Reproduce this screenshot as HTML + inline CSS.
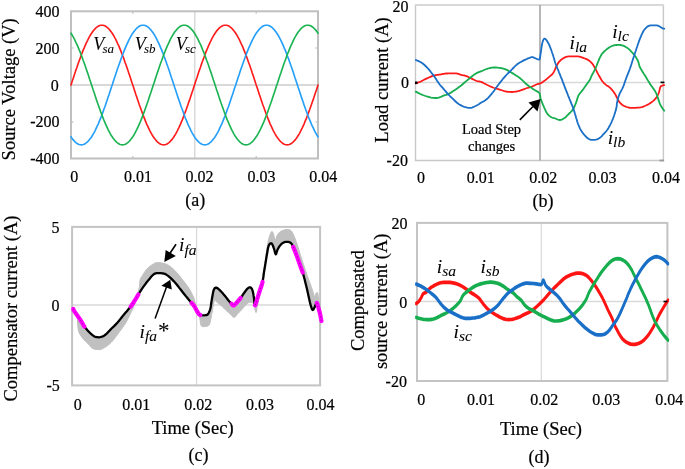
<!DOCTYPE html>
<html><head><meta charset="utf-8"><style>html,body{margin:0;padding:0;background:#fff;overflow:hidden;}svg{display:block;filter:blur(0.45px);}text{font-family:"Liberation Serif",serif;stroke:#000;stroke-width:0.2px;}text[font-style=italic]{stroke-width:0.05px;}</style></head>
<body><svg width="685" height="469" viewBox="0 0 685 469" fill="#000">
<rect width="685" height="469" fill="#fff"/>
<line x1="71" y1="85" x2="318" y2="85" stroke="#d9d9d9" stroke-width="2"/>
<line x1="194.75" y1="11.3" x2="194.75" y2="158.5" stroke="#d9d9d9" stroke-width="1.5"/>
<rect x="71" y="11.3" width="247" height="147.2" fill="none" stroke="#bfbfbf" stroke-width="2"/>
<line x1="132.8" y1="11.3" x2="132.8" y2="13.8" stroke="#bfbfbf" stroke-width="1.2"/>
<line x1="132.8" y1="158.5" x2="132.8" y2="156.0" stroke="#bfbfbf" stroke-width="1.2"/>
<line x1="256.2" y1="11.3" x2="256.2" y2="13.8" stroke="#bfbfbf" stroke-width="1.2"/>
<line x1="256.2" y1="158.5" x2="256.2" y2="156.0" stroke="#bfbfbf" stroke-width="1.2"/>
<line x1="71" y1="48" x2="73.5" y2="48" stroke="#bfbfbf" stroke-width="1.2"/>
<line x1="318" y1="48" x2="315.5" y2="48" stroke="#bfbfbf" stroke-width="1.2"/>
<line x1="71" y1="122" x2="73.5" y2="122" stroke="#bfbfbf" stroke-width="1.2"/>
<line x1="318" y1="122" x2="315.5" y2="122" stroke="#bfbfbf" stroke-width="1.2"/>
<path d="M71.0,85.0 L71.8,82.5 L72.6,80.0 L73.5,77.5 L74.3,75.0 L75.1,72.6 L75.9,70.1 L76.8,67.7 L77.6,65.3 L78.4,63.0 L79.2,60.7 L80.1,58.4 L80.9,56.2 L81.7,54.0 L82.5,51.9 L83.3,49.9 L84.2,47.9 L85.0,45.9 L85.8,44.1 L86.6,42.3 L87.5,40.6 L88.3,38.9 L89.1,37.4 L89.9,35.9 L90.8,34.5 L91.6,33.2 L92.4,32.0 L93.2,30.9 L94.1,29.9 L94.9,29.0 L95.7,28.1 L96.5,27.4 L97.3,26.8 L98.2,26.3 L99.0,25.8 L99.8,25.5 L100.6,25.3 L101.5,25.2 L102.3,25.2 L103.1,25.3 L103.9,25.5 L104.8,25.8 L105.6,26.3 L106.4,26.8 L107.2,27.4 L108.0,28.1 L108.9,29.0 L109.7,29.9 L110.5,30.9 L111.3,32.0 L112.2,33.2 L113.0,34.5 L113.8,35.9 L114.6,37.4 L115.5,38.9 L116.3,40.6 L117.1,42.3 L117.9,44.1 L118.8,45.9 L119.6,47.9 L120.4,49.9 L121.2,51.9 L122.0,54.0 L122.9,56.2 L123.7,58.4 L124.5,60.7 L125.3,63.0 L126.2,65.3 L127.0,67.7 L127.8,70.1 L128.6,72.6 L129.5,75.0 L130.3,77.5 L131.1,80.0 L131.9,82.5 L132.8,85.0 L133.6,87.5 L134.4,90.0 L135.2,92.5 L136.0,95.0 L136.9,97.4 L137.7,99.9 L138.5,102.3 L139.3,104.7 L140.2,107.0 L141.0,109.3 L141.8,111.6 L142.6,113.8 L143.5,116.0 L144.3,118.1 L145.1,120.1 L145.9,122.1 L146.7,124.1 L147.6,125.9 L148.4,127.7 L149.2,129.4 L150.0,131.1 L150.9,132.6 L151.7,134.1 L152.5,135.5 L153.3,136.8 L154.2,138.0 L155.0,139.1 L155.8,140.1 L156.6,141.0 L157.4,141.9 L158.3,142.6 L159.1,143.2 L159.9,143.7 L160.7,144.2 L161.6,144.5 L162.4,144.7 L163.2,144.8 L164.0,144.8 L164.9,144.7 L165.7,144.5 L166.5,144.2 L167.3,143.7 L168.2,143.2 L169.0,142.6 L169.8,141.9 L170.6,141.0 L171.4,140.1 L172.3,139.1 L173.1,138.0 L173.9,136.8 L174.7,135.5 L175.6,134.1 L176.4,132.6 L177.2,131.1 L178.0,129.4 L178.9,127.7 L179.7,125.9 L180.5,124.1 L181.3,122.1 L182.2,120.1 L183.0,118.1 L183.8,116.0 L184.6,113.8 L185.4,111.6 L186.3,109.3 L187.1,107.0 L187.9,104.7 L188.7,102.3 L189.6,99.9 L190.4,97.4 L191.2,95.0 L192.0,92.5 L192.9,90.0 L193.7,87.5 L194.5,85.0 L195.3,82.5 L196.1,80.0 L197.0,77.5 L197.8,75.0 L198.6,72.6 L199.4,70.1 L200.3,67.7 L201.1,65.3 L201.9,63.0 L202.7,60.7 L203.6,58.4 L204.4,56.2 L205.2,54.0 L206.0,51.9 L206.8,49.9 L207.7,47.9 L208.5,45.9 L209.3,44.1 L210.1,42.3 L211.0,40.6 L211.8,38.9 L212.6,37.4 L213.4,35.9 L214.3,34.5 L215.1,33.2 L215.9,32.0 L216.7,30.9 L217.6,29.9 L218.4,29.0 L219.2,28.1 L220.0,27.4 L220.8,26.8 L221.7,26.3 L222.5,25.8 L223.3,25.5 L224.1,25.3 L225.0,25.2 L225.8,25.2 L226.6,25.3 L227.4,25.5 L228.3,25.8 L229.1,26.3 L229.9,26.8 L230.7,27.4 L231.5,28.1 L232.4,29.0 L233.2,29.9 L234.0,30.9 L234.8,32.0 L235.7,33.2 L236.5,34.5 L237.3,35.9 L238.1,37.4 L239.0,38.9 L239.8,40.6 L240.6,42.3 L241.4,44.1 L242.3,45.9 L243.1,47.9 L243.9,49.9 L244.7,51.9 L245.5,54.0 L246.4,56.2 L247.2,58.4 L248.0,60.7 L248.8,63.0 L249.7,65.3 L250.5,67.7 L251.3,70.1 L252.1,72.6 L253.0,75.0 L253.8,77.5 L254.6,80.0 L255.4,82.5 L256.2,85.0 L257.1,87.5 L257.9,90.0 L258.7,92.5 L259.5,95.0 L260.4,97.4 L261.2,99.9 L262.0,102.3 L262.8,104.7 L263.7,107.0 L264.5,109.3 L265.3,111.6 L266.1,113.8 L267.0,116.0 L267.8,118.1 L268.6,120.1 L269.4,122.1 L270.2,124.1 L271.1,125.9 L271.9,127.7 L272.7,129.4 L273.5,131.1 L274.4,132.6 L275.2,134.1 L276.0,135.5 L276.8,136.8 L277.7,138.0 L278.5,139.1 L279.3,140.1 L280.1,141.0 L281.0,141.9 L281.8,142.6 L282.6,143.2 L283.4,143.7 L284.2,144.2 L285.1,144.5 L285.9,144.7 L286.7,144.8 L287.5,144.8 L288.4,144.7 L289.2,144.5 L290.0,144.2 L290.8,143.7 L291.7,143.2 L292.5,142.6 L293.3,141.9 L294.1,141.0 L294.9,140.1 L295.8,139.1 L296.6,138.0 L297.4,136.8 L298.2,135.5 L299.1,134.1 L299.9,132.6 L300.7,131.1 L301.5,129.4 L302.4,127.7 L303.2,125.9 L304.0,124.1 L304.8,122.1 L305.6,120.1 L306.5,118.1 L307.3,116.0 L308.1,113.8 L308.9,111.6 L309.8,109.3 L310.6,107.0 L311.4,104.7 L312.2,102.3 L313.1,99.9 L313.9,97.4 L314.7,95.0 L315.5,92.5 L316.4,90.0 L317.2,87.5 L318.0,85.0" fill="none" stroke="#ff1c1c" stroke-width="1.65" stroke-linejoin="round" stroke-linecap="round" />
<path d="M71.0,136.8 L71.8,138.0 L72.6,139.1 L73.5,140.1 L74.3,141.0 L75.1,141.9 L75.9,142.6 L76.8,143.2 L77.6,143.7 L78.4,144.2 L79.2,144.5 L80.1,144.7 L80.9,144.8 L81.7,144.8 L82.5,144.7 L83.3,144.5 L84.2,144.2 L85.0,143.7 L85.8,143.2 L86.6,142.6 L87.5,141.9 L88.3,141.0 L89.1,140.1 L89.9,139.1 L90.8,138.0 L91.6,136.8 L92.4,135.5 L93.2,134.1 L94.1,132.6 L94.9,131.1 L95.7,129.4 L96.5,127.7 L97.3,125.9 L98.2,124.1 L99.0,122.1 L99.8,120.1 L100.6,118.1 L101.5,116.0 L102.3,113.8 L103.1,111.6 L103.9,109.3 L104.8,107.0 L105.6,104.7 L106.4,102.3 L107.2,99.9 L108.0,97.4 L108.9,95.0 L109.7,92.5 L110.5,90.0 L111.3,87.5 L112.2,85.0 L113.0,82.5 L113.8,80.0 L114.6,77.5 L115.5,75.0 L116.3,72.6 L117.1,70.1 L117.9,67.7 L118.8,65.3 L119.6,63.0 L120.4,60.7 L121.2,58.4 L122.0,56.2 L122.9,54.0 L123.7,51.9 L124.5,49.9 L125.3,47.9 L126.2,45.9 L127.0,44.1 L127.8,42.3 L128.6,40.6 L129.5,38.9 L130.3,37.4 L131.1,35.9 L131.9,34.5 L132.8,33.2 L133.6,32.0 L134.4,30.9 L135.2,29.9 L136.0,29.0 L136.9,28.1 L137.7,27.4 L138.5,26.8 L139.3,26.3 L140.2,25.8 L141.0,25.5 L141.8,25.3 L142.6,25.2 L143.5,25.2 L144.3,25.3 L145.1,25.5 L145.9,25.8 L146.7,26.3 L147.6,26.8 L148.4,27.4 L149.2,28.1 L150.0,29.0 L150.9,29.9 L151.7,30.9 L152.5,32.0 L153.3,33.2 L154.2,34.5 L155.0,35.9 L155.8,37.4 L156.6,38.9 L157.4,40.6 L158.3,42.3 L159.1,44.1 L159.9,45.9 L160.7,47.9 L161.6,49.9 L162.4,51.9 L163.2,54.0 L164.0,56.2 L164.9,58.4 L165.7,60.7 L166.5,63.0 L167.3,65.3 L168.2,67.7 L169.0,70.1 L169.8,72.6 L170.6,75.0 L171.4,77.5 L172.3,80.0 L173.1,82.5 L173.9,85.0 L174.7,87.5 L175.6,90.0 L176.4,92.5 L177.2,95.0 L178.0,97.4 L178.9,99.9 L179.7,102.3 L180.5,104.7 L181.3,107.0 L182.2,109.3 L183.0,111.6 L183.8,113.8 L184.6,116.0 L185.4,118.1 L186.3,120.1 L187.1,122.1 L187.9,124.1 L188.7,125.9 L189.6,127.7 L190.4,129.4 L191.2,131.1 L192.0,132.6 L192.9,134.1 L193.7,135.5 L194.5,136.8 L195.3,138.0 L196.1,139.1 L197.0,140.1 L197.8,141.0 L198.6,141.9 L199.4,142.6 L200.3,143.2 L201.1,143.7 L201.9,144.2 L202.7,144.5 L203.6,144.7 L204.4,144.8 L205.2,144.8 L206.0,144.7 L206.8,144.5 L207.7,144.2 L208.5,143.7 L209.3,143.2 L210.1,142.6 L211.0,141.9 L211.8,141.0 L212.6,140.1 L213.4,139.1 L214.3,138.0 L215.1,136.8 L215.9,135.5 L216.7,134.1 L217.6,132.6 L218.4,131.1 L219.2,129.4 L220.0,127.7 L220.8,125.9 L221.7,124.1 L222.5,122.1 L223.3,120.1 L224.1,118.1 L225.0,116.0 L225.8,113.8 L226.6,111.6 L227.4,109.3 L228.3,107.0 L229.1,104.7 L229.9,102.3 L230.7,99.9 L231.5,97.4 L232.4,95.0 L233.2,92.5 L234.0,90.0 L234.8,87.5 L235.7,85.0 L236.5,82.5 L237.3,80.0 L238.1,77.5 L239.0,75.0 L239.8,72.6 L240.6,70.1 L241.4,67.7 L242.3,65.3 L243.1,63.0 L243.9,60.7 L244.7,58.4 L245.5,56.2 L246.4,54.0 L247.2,51.9 L248.0,49.9 L248.8,47.9 L249.7,45.9 L250.5,44.1 L251.3,42.3 L252.1,40.6 L253.0,38.9 L253.8,37.4 L254.6,35.9 L255.4,34.5 L256.2,33.2 L257.1,32.0 L257.9,30.9 L258.7,29.9 L259.5,29.0 L260.4,28.1 L261.2,27.4 L262.0,26.8 L262.8,26.3 L263.7,25.8 L264.5,25.5 L265.3,25.3 L266.1,25.2 L267.0,25.2 L267.8,25.3 L268.6,25.5 L269.4,25.8 L270.2,26.3 L271.1,26.8 L271.9,27.4 L272.7,28.1 L273.5,29.0 L274.4,29.9 L275.2,30.9 L276.0,32.0 L276.8,33.2 L277.7,34.5 L278.5,35.9 L279.3,37.4 L280.1,38.9 L281.0,40.6 L281.8,42.3 L282.6,44.1 L283.4,45.9 L284.2,47.9 L285.1,49.9 L285.9,51.9 L286.7,54.0 L287.5,56.2 L288.4,58.4 L289.2,60.7 L290.0,63.0 L290.8,65.3 L291.7,67.7 L292.5,70.1 L293.3,72.6 L294.1,75.0 L294.9,77.5 L295.8,80.0 L296.6,82.5 L297.4,85.0 L298.2,87.5 L299.1,90.0 L299.9,92.5 L300.7,95.0 L301.5,97.4 L302.4,99.9 L303.2,102.3 L304.0,104.7 L304.8,107.0 L305.6,109.3 L306.5,111.6 L307.3,113.8 L308.1,116.0 L308.9,118.1 L309.8,120.1 L310.6,122.1 L311.4,124.1 L312.2,125.9 L313.1,127.7 L313.9,129.4 L314.7,131.1 L315.5,132.6 L316.4,134.1 L317.2,135.5 L318.0,136.8" fill="none" stroke="#259ffa" stroke-width="1.65" stroke-linejoin="round" stroke-linecap="round" />
<path d="M71.0,33.2 L71.8,34.5 L72.6,35.9 L73.5,37.4 L74.3,38.9 L75.1,40.6 L75.9,42.3 L76.8,44.1 L77.6,45.9 L78.4,47.9 L79.2,49.9 L80.1,51.9 L80.9,54.0 L81.7,56.2 L82.5,58.4 L83.3,60.7 L84.2,63.0 L85.0,65.3 L85.8,67.7 L86.6,70.1 L87.5,72.6 L88.3,75.0 L89.1,77.5 L89.9,80.0 L90.8,82.5 L91.6,85.0 L92.4,87.5 L93.2,90.0 L94.1,92.5 L94.9,95.0 L95.7,97.4 L96.5,99.9 L97.3,102.3 L98.2,104.7 L99.0,107.0 L99.8,109.3 L100.6,111.6 L101.5,113.8 L102.3,116.0 L103.1,118.1 L103.9,120.1 L104.8,122.1 L105.6,124.1 L106.4,125.9 L107.2,127.7 L108.0,129.4 L108.9,131.1 L109.7,132.6 L110.5,134.1 L111.3,135.5 L112.2,136.8 L113.0,138.0 L113.8,139.1 L114.6,140.1 L115.5,141.0 L116.3,141.9 L117.1,142.6 L117.9,143.2 L118.8,143.7 L119.6,144.2 L120.4,144.5 L121.2,144.7 L122.0,144.8 L122.9,144.8 L123.7,144.7 L124.5,144.5 L125.3,144.2 L126.2,143.7 L127.0,143.2 L127.8,142.6 L128.6,141.9 L129.5,141.0 L130.3,140.1 L131.1,139.1 L131.9,138.0 L132.8,136.8 L133.6,135.5 L134.4,134.1 L135.2,132.6 L136.0,131.1 L136.9,129.4 L137.7,127.7 L138.5,125.9 L139.3,124.1 L140.2,122.1 L141.0,120.1 L141.8,118.1 L142.6,116.0 L143.5,113.8 L144.3,111.6 L145.1,109.3 L145.9,107.0 L146.7,104.7 L147.6,102.3 L148.4,99.9 L149.2,97.4 L150.0,95.0 L150.9,92.5 L151.7,90.0 L152.5,87.5 L153.3,85.0 L154.2,82.5 L155.0,80.0 L155.8,77.5 L156.6,75.0 L157.4,72.6 L158.3,70.1 L159.1,67.7 L159.9,65.3 L160.7,63.0 L161.6,60.7 L162.4,58.4 L163.2,56.2 L164.0,54.0 L164.9,51.9 L165.7,49.9 L166.5,47.9 L167.3,45.9 L168.2,44.1 L169.0,42.3 L169.8,40.6 L170.6,38.9 L171.4,37.4 L172.3,35.9 L173.1,34.5 L173.9,33.2 L174.7,32.0 L175.6,30.9 L176.4,29.9 L177.2,29.0 L178.0,28.1 L178.9,27.4 L179.7,26.8 L180.5,26.3 L181.3,25.8 L182.2,25.5 L183.0,25.3 L183.8,25.2 L184.6,25.2 L185.4,25.3 L186.3,25.5 L187.1,25.8 L187.9,26.3 L188.7,26.8 L189.6,27.4 L190.4,28.1 L191.2,29.0 L192.0,29.9 L192.9,30.9 L193.7,32.0 L194.5,33.2 L195.3,34.5 L196.1,35.9 L197.0,37.4 L197.8,38.9 L198.6,40.6 L199.4,42.3 L200.3,44.1 L201.1,45.9 L201.9,47.9 L202.7,49.9 L203.6,51.9 L204.4,54.0 L205.2,56.2 L206.0,58.4 L206.8,60.7 L207.7,63.0 L208.5,65.3 L209.3,67.7 L210.1,70.1 L211.0,72.6 L211.8,75.0 L212.6,77.5 L213.4,80.0 L214.3,82.5 L215.1,85.0 L215.9,87.5 L216.7,90.0 L217.6,92.5 L218.4,95.0 L219.2,97.4 L220.0,99.9 L220.8,102.3 L221.7,104.7 L222.5,107.0 L223.3,109.3 L224.1,111.6 L225.0,113.8 L225.8,116.0 L226.6,118.1 L227.4,120.1 L228.3,122.1 L229.1,124.1 L229.9,125.9 L230.7,127.7 L231.5,129.4 L232.4,131.1 L233.2,132.6 L234.0,134.1 L234.8,135.5 L235.7,136.8 L236.5,138.0 L237.3,139.1 L238.1,140.1 L239.0,141.0 L239.8,141.9 L240.6,142.6 L241.4,143.2 L242.3,143.7 L243.1,144.2 L243.9,144.5 L244.7,144.7 L245.5,144.8 L246.4,144.8 L247.2,144.7 L248.0,144.5 L248.8,144.2 L249.7,143.7 L250.5,143.2 L251.3,142.6 L252.1,141.9 L253.0,141.0 L253.8,140.1 L254.6,139.1 L255.4,138.0 L256.2,136.8 L257.1,135.5 L257.9,134.1 L258.7,132.6 L259.5,131.1 L260.4,129.4 L261.2,127.7 L262.0,125.9 L262.8,124.1 L263.7,122.1 L264.5,120.1 L265.3,118.1 L266.1,116.0 L267.0,113.8 L267.8,111.6 L268.6,109.3 L269.4,107.0 L270.2,104.7 L271.1,102.3 L271.9,99.9 L272.7,97.4 L273.5,95.0 L274.4,92.5 L275.2,90.0 L276.0,87.5 L276.8,85.0 L277.7,82.5 L278.5,80.0 L279.3,77.5 L280.1,75.0 L281.0,72.6 L281.8,70.1 L282.6,67.7 L283.4,65.3 L284.2,63.0 L285.1,60.7 L285.9,58.4 L286.7,56.2 L287.5,54.0 L288.4,51.9 L289.2,49.9 L290.0,47.9 L290.8,45.9 L291.7,44.1 L292.5,42.3 L293.3,40.6 L294.1,38.9 L294.9,37.4 L295.8,35.9 L296.6,34.5 L297.4,33.2 L298.2,32.0 L299.1,30.9 L299.9,29.9 L300.7,29.0 L301.5,28.1 L302.4,27.4 L303.2,26.8 L304.0,26.3 L304.8,25.8 L305.6,25.5 L306.5,25.3 L307.3,25.2 L308.1,25.2 L308.9,25.3 L309.8,25.5 L310.6,25.8 L311.4,26.3 L312.2,26.8 L313.1,27.4 L313.9,28.1 L314.7,29.0 L315.5,29.9 L316.4,30.9 L317.2,32.0 L318.0,33.2" fill="none" stroke="#1cb452" stroke-width="1.65" stroke-linejoin="round" stroke-linecap="round" />
<text x="59.6" y="17.4" font-size="16" text-anchor="end">400</text>
<text x="59.6" y="53.8" font-size="16" text-anchor="end">200</text>
<text x="58.8" y="90.55" font-size="16" text-anchor="end">0</text>
<text x="59.6" y="127.1" font-size="16" text-anchor="end">-200</text>
<text x="59.6" y="163.5" font-size="16" text-anchor="end">-400</text>
<text x="70.2" y="182" font-size="16">0</text>
<text x="124" y="182" font-size="16">0.01</text>
<text x="185.5" y="182" font-size="16">0.02</text>
<text x="247.4" y="182" font-size="16">0.03</text>
<text x="309.2" y="182" font-size="16">0.04</text>
<text x="195.3" y="206" font-size="18" text-anchor="middle">(a)</text>
<text transform="translate(15,89.3) rotate(-90)" font-size="18.5" text-anchor="middle">Source Voltage (V)</text>
<text x="93.2" y="49.7" font-size="18" font-style="italic">V<tspan font-size="13" dy="2.8" dx="-1.8">sa</tspan></text>
<text x="134.7" y="49.7" font-size="18" font-style="italic">V<tspan font-size="13" dy="2.8" dx="-1.8">sb</tspan></text>
<text x="175.7" y="49.7" font-size="18" font-style="italic">V<tspan font-size="13" dy="2.8" dx="-1.8">sc</tspan></text>
<line x1="415.5" y1="82.4" x2="663.4" y2="82.4" stroke="#d9d9d9" stroke-width="1.5"/>
<path d="M415.5,4.9 V160.5 H663.4 V4.9" fill="none" stroke="#c8c8c8" stroke-width="1.4"/>
<line x1="414.8" y1="4.9" x2="664.1" y2="4.9" stroke="#d8d8d8" stroke-width="2"/>
<rect x="659.5" y="159.6" width="4.6" height="1.8" fill="#9a9a9a"/>
<line x1="540" y1="4.9" x2="540" y2="160.5" stroke="#a0a0a0" stroke-width="1.5"/>
<path d="M415.8,83.5 L416.8,83.1 L418.2,82.5 L419.8,81.9 L421.3,81.2 L422.7,80.5 L424.0,79.8 L425.4,79.1 L426.9,78.4 L428.5,77.7 L430.3,76.9 L432.0,76.2 L433.8,75.6 L435.6,75.2 L437.4,74.9 L439.2,74.7 L440.7,74.5 L441.9,74.2 L442.8,74.0 L443.7,73.8 L444.9,73.6 L446.5,73.5 L448.3,73.4 L450.1,73.3 L451.8,73.3 L453.3,73.3 L454.8,73.3 L456.1,73.4 L457.4,73.6 L458.5,73.9 L459.5,74.3 L460.5,74.7 L461.5,75.0 L462.5,75.2 L463.5,75.3 L464.6,75.5 L465.7,75.8 L467.0,76.3 L468.4,77.0 L469.8,77.7 L471.2,78.4 L472.6,79.1 L474.1,79.8 L475.5,80.5 L476.8,81.0 L477.9,81.3 L478.9,81.4 L479.9,81.5 L481.0,81.8 L482.4,82.4 L483.8,83.2 L485.4,84.0 L486.9,84.8 L488.4,85.5 L489.9,86.2 L491.4,86.9 L492.9,87.5 L494.4,88.0 L495.8,88.4 L497.3,88.8 L498.9,89.3 L500.6,89.9 L502.5,90.5 L504.4,91.1 L506.3,91.5 L508.2,91.8 L510.1,91.9 L512.0,92.0 L513.8,91.9 L515.4,91.7 L516.9,91.5 L518.3,91.1 L519.8,90.7 L521.3,90.2 L522.8,89.6 L524.2,89.1 L525.7,88.5 L527.2,88.0 L528.7,87.6 L530.2,87.1 L531.7,86.6 L533.3,86.0 L534.9,85.2 L536.4,84.5 L537.7,84.0 L538.6,83.8 L539.2,83.7 L539.8,83.7 L540.5,83.4 L541.5,82.8 L542.7,82.1 L543.8,81.3 L545.0,80.4 L546.1,79.5 L547.2,78.6 L548.3,77.6 L549.4,76.7 L550.4,75.8 L551.4,75.0 L552.3,74.1 L553.2,73.0 L554.0,71.6 L554.7,70.1 L555.4,68.5 L556.1,67.0 L556.8,65.6 L557.5,64.2 L558.3,62.9 L559.1,61.8 L560.0,60.8 L560.9,59.9 L561.9,59.2 L562.9,58.5 L563.9,57.9 L565.0,57.4 L566.1,56.9 L567.3,56.6 L568.7,56.4 L570.2,56.3 L571.8,56.3 L573.3,56.3 L574.8,56.3 L576.4,56.3 L577.9,56.4 L579.3,56.6 L580.5,56.9 L581.6,57.3 L582.7,57.7 L583.8,58.1 L584.9,58.5 L586.0,58.9 L587.1,59.4 L588.2,60.0 L589.2,60.7 L590.1,61.4 L591.1,62.3 L592.0,63.3 L592.9,64.6 L593.9,66.1 L594.8,67.7 L595.7,69.3 L596.5,70.8 L597.2,72.3 L597.9,73.7 L598.7,75.2 L599.6,76.7 L600.5,78.3 L601.5,79.9 L602.4,81.2 L603.3,82.3 L604.2,83.3 L605.1,84.1 L606.0,84.9 L606.8,85.5 L607.5,85.9 L608.2,86.3 L609.0,86.9 L609.9,87.7 L610.9,88.7 L611.8,89.7 L612.7,90.7 L613.5,91.7 L614.2,92.8 L615.0,93.9 L615.7,95.1 L616.4,96.5 L617.2,98.1 L617.9,99.7 L618.7,101.1 L619.5,102.2 L620.4,103.2 L621.3,104.1 L622.4,104.9 L623.7,105.7 L625.2,106.4 L626.7,107.0 L628.4,107.5 L630.2,107.8 L632.1,107.9 L634.0,107.8 L635.8,107.8 L637.4,107.7 L638.9,107.6 L640.3,107.4 L641.8,107.1 L643.3,106.6 L644.8,106.0 L646.4,105.3 L647.8,104.6 L649.2,103.8 L650.5,102.9 L651.8,102.0 L653.0,101.1 L654.1,100.2 L655.0,99.2 L655.9,98.2 L656.7,97.1 L657.4,95.9 L658.0,94.7 L658.5,93.5 L659.0,92.2 L659.4,90.8 L659.7,89.3 L660.0,88.0 L660.4,86.9 L660.9,86.2 L661.5,85.8 L662.2,85.6 L662.7,85.4 L663.2,85.2 L663.6,85.2 L663.9,85.1 L664.2,85.1" fill="none" stroke="#ff1a1a" stroke-width="1.8" stroke-linejoin="round" stroke-linecap="round" />
<path d="M415.8,91.6 L416.8,92.1 L418.2,92.9 L419.8,93.7 L421.3,94.4 L422.7,95.0 L424.1,95.5 L425.5,96.0 L426.9,96.4 L428.3,96.8 L429.6,97.2 L431.0,97.6 L432.4,97.8 L433.8,97.9 L435.2,98.0 L436.6,98.0 L438.0,97.8 L439.4,97.4 L440.8,96.9 L442.1,96.3 L443.5,95.7 L444.9,95.2 L446.2,94.8 L447.6,94.3 L449.0,93.7 L450.4,92.9 L451.8,92.1 L453.2,91.1 L454.6,90.2 L456.0,89.3 L457.4,88.3 L458.7,87.3 L460.1,86.3 L461.5,85.2 L462.9,84.0 L464.3,82.8 L465.7,81.6 L467.1,80.4 L468.5,79.2 L469.9,78.1 L471.2,77.0 L472.4,76.0 L473.6,75.1 L474.8,74.3 L476.0,73.5 L477.1,72.9 L478.2,72.4 L479.5,71.9 L481.0,71.3 L483.0,70.5 L485.3,69.5 L487.7,68.6 L489.9,68.0 L491.9,67.7 L493.7,67.5 L495.6,67.5 L497.4,67.6 L499.3,67.8 L501.2,68.1 L503.0,68.5 L504.9,69.1 L506.8,69.9 L508.6,70.9 L510.4,72.0 L512.3,73.1 L514.2,74.2 L516.0,75.4 L517.9,76.6 L519.8,78.0 L521.7,79.6 L523.5,81.4 L525.3,83.2 L527.2,84.8 L529.1,86.3 L531.1,87.6 L533.0,88.9 L534.7,90.0 L536.2,90.9 L537.5,91.6 L538.5,92.3 L539.4,93.2 L539.9,94.3 L540.1,95.5 L540.3,96.7 L540.5,97.9 L540.8,99.0 L541.2,100.1 L541.6,101.2 L542.0,102.4 L542.5,103.6 L543.0,104.9 L543.6,106.2 L544.2,107.6 L544.9,109.1 L545.6,110.7 L546.4,112.3 L547.2,113.6 L548.1,114.7 L549.0,115.6 L549.9,116.3 L550.9,117.0 L552.0,117.5 L553.1,117.9 L554.3,118.2 L555.4,118.5 L556.5,119.0 L557.6,119.5 L558.8,119.9 L559.9,120.0 L561.0,119.8 L562.2,119.4 L563.3,118.8 L564.4,118.1 L565.4,117.4 L566.3,116.5 L567.1,115.6 L568.1,114.6 L569.2,113.5 L570.4,112.4 L571.6,111.2 L572.6,109.9 L573.5,108.5 L574.2,107.0 L574.9,105.5 L575.6,103.9 L576.2,102.2 L576.8,100.4 L577.3,98.6 L577.8,97.2 L578.2,96.2 L578.5,95.5 L578.8,94.9 L579.3,94.2 L579.9,93.3 L580.7,92.4 L581.5,91.5 L582.3,90.4 L583.2,89.2 L584.1,87.9 L585.1,86.5 L586.0,85.2 L587.0,83.9 L588.0,82.5 L588.9,81.2 L589.7,80.0 L590.2,79.2 L590.4,78.6 L590.7,77.9 L591.2,76.7 L592.1,74.8 L593.4,72.5 L594.6,70.1 L595.7,67.8 L596.6,65.8 L597.3,63.9 L598.0,62.0 L598.7,60.3 L599.4,58.7 L600.1,57.1 L600.9,55.7 L601.7,54.3 L602.6,53.1 L603.7,52.0 L604.8,50.9 L606.0,49.9 L607.4,48.8 L608.8,47.7 L610.4,46.8 L611.9,46.0 L613.4,45.5 L614.9,45.2 L616.5,45.0 L617.9,44.9 L619.3,44.9 L620.6,45.0 L621.9,45.3 L623.1,45.6 L624.3,46.1 L625.4,46.7 L626.5,47.4 L627.6,48.1 L628.6,48.9 L629.5,49.7 L630.4,50.6 L631.3,51.6 L632.3,52.6 L633.2,53.7 L634.2,54.8 L635.1,56.0 L635.9,57.3 L636.7,58.6 L637.5,60.0 L638.1,61.3 L638.5,62.6 L638.9,63.9 L639.2,65.2 L639.6,66.5 L640.2,67.8 L640.9,69.0 L641.7,70.3 L642.5,71.7 L643.4,73.1 L644.3,74.6 L645.3,76.1 L646.3,77.7 L647.4,79.6 L648.6,81.6 L649.8,83.5 L650.7,85.0 L651.2,85.8 L651.5,86.0 L651.7,86.3 L652.2,86.9 L653.0,88.1 L654.1,89.6 L655.1,91.3 L656.0,92.9 L656.7,94.4 L657.2,95.9 L657.7,97.4 L658.2,98.9 L658.7,100.4 L659.2,101.9 L659.7,103.4 L660.4,104.9 L661.3,106.5 L662.4,108.2 L663.5,109.7 L664.2,110.8" fill="none" stroke="#17ae4f" stroke-width="1.8" stroke-linejoin="round" stroke-linecap="round" />
<path d="M415.8,60.0 L416.8,60.4 L418.2,60.9 L419.8,61.7 L421.3,62.5 L422.7,63.5 L424.2,64.8 L425.6,66.0 L426.9,67.3 L428.0,68.5 L429.0,69.7 L430.0,70.9 L431.0,72.2 L432.0,73.5 L433.1,74.9 L434.2,76.3 L435.2,77.7 L436.2,79.3 L437.2,80.9 L438.3,82.5 L439.3,84.0 L440.3,85.3 L441.4,86.5 L442.5,87.6 L443.5,88.8 L444.5,90.0 L445.5,91.2 L446.5,92.4 L447.6,93.7 L448.9,95.0 L450.3,96.5 L451.8,97.9 L453.2,99.2 L454.6,100.5 L455.9,101.8 L457.3,103.0 L458.7,104.0 L460.1,104.9 L461.5,105.6 L462.9,106.3 L464.3,106.8 L465.7,107.2 L467.1,107.6 L468.5,107.8 L469.8,107.9 L470.9,107.8 L472.0,107.6 L473.0,107.2 L474.0,106.8 L475.0,106.3 L476.1,105.8 L477.1,105.2 L478.0,104.7 L478.8,104.2 L479.4,103.8 L480.1,103.3 L481.0,102.7 L482.3,102.0 L483.8,101.2 L485.3,100.2 L486.9,99.0 L488.4,97.6 L489.9,95.9 L491.4,94.1 L492.9,92.2 L494.4,90.2 L495.9,88.1 L497.4,86.0 L498.9,84.0 L500.4,82.1 L501.9,80.2 L503.4,78.3 L504.9,76.6 L506.4,75.0 L507.8,73.5 L509.3,72.1 L510.8,70.6 L512.3,69.0 L513.8,67.5 L515.3,65.9 L516.8,64.6 L518.3,63.5 L519.8,62.5 L521.3,61.7 L522.8,60.9 L524.3,60.1 L525.9,59.4 L527.4,58.7 L528.7,58.2 L529.8,57.8 L530.7,57.4 L531.6,57.2 L532.5,57.2 L533.4,57.4 L534.4,57.9 L535.3,58.3 L536.2,58.7 L537.1,59.0 L538.0,59.4 L538.8,59.6 L539.5,59.3 L539.9,58.5 L540.1,57.3 L540.3,55.9 L540.5,54.3 L540.8,52.4 L541.1,50.3 L541.4,48.1 L541.7,46.1 L542.1,44.3 L542.4,42.7 L542.8,41.2 L543.2,40.1 L543.6,39.4 L543.9,38.9 L544.3,38.7 L544.7,38.7 L545.1,38.8 L545.5,39.1 L545.9,39.5 L546.4,40.1 L546.9,40.8 L547.5,41.8 L548.1,42.8 L548.7,43.9 L549.3,45.1 L549.8,46.3 L550.3,47.7 L550.9,49.1 L551.5,50.7 L552.0,52.3 L552.6,54.0 L553.2,55.8 L553.7,57.6 L554.3,59.5 L554.8,61.4 L555.4,63.3 L556.1,65.2 L556.9,67.0 L557.6,68.8 L558.4,70.7 L559.1,72.6 L559.9,74.4 L560.6,76.3 L561.4,78.2 L562.2,80.1 L562.9,82.1 L563.7,84.1 L564.4,86.0 L565.1,87.9 L565.8,89.7 L566.6,91.6 L567.3,93.4 L568.0,95.3 L568.8,97.1 L569.5,99.0 L570.3,100.9 L571.1,102.8 L571.8,104.7 L572.6,106.5 L573.3,108.4 L573.9,110.3 L574.5,112.1 L575.0,113.9 L575.6,115.8 L576.1,117.7 L576.7,119.6 L577.2,121.5 L577.8,123.3 L578.5,125.0 L579.2,126.7 L579.9,128.4 L580.8,130.0 L581.8,131.6 L583.0,133.2 L584.1,134.7 L585.3,136.0 L586.4,137.1 L587.4,138.1 L588.5,138.8 L589.7,139.4 L591.1,139.8 L592.7,139.9 L594.3,139.9 L595.7,139.7 L597.0,139.3 L598.2,138.8 L599.2,138.2 L600.2,137.5 L601.0,136.9 L601.6,136.3 L602.2,135.6 L603.0,134.7 L604.0,133.6 L605.2,132.3 L606.4,131.0 L607.5,129.5 L608.5,127.9 L609.4,126.3 L610.3,124.6 L611.2,122.8 L612.0,121.0 L612.8,119.1 L613.5,117.2 L614.2,115.3 L614.8,113.4 L615.4,111.4 L616.0,109.6 L616.4,107.8 L616.7,106.2 L616.8,104.9 L616.9,103.5 L617.2,101.9 L617.6,100.1 L618.1,98.3 L618.7,96.3 L619.4,94.4 L620.2,92.5 L621.2,90.7 L622.2,88.8 L623.1,86.9 L623.9,84.9 L624.6,82.8 L625.3,80.7 L626.1,78.5 L627.0,76.1 L628.0,73.6 L629.0,71.1 L629.9,68.7 L630.7,66.4 L631.4,64.2 L632.1,62.0 L632.8,59.8 L633.5,57.6 L634.3,55.3 L635.0,53.0 L635.8,50.8 L636.5,48.5 L637.3,46.3 L638.0,44.0 L638.8,41.9 L639.5,39.9 L640.3,37.9 L641.0,36.1 L641.8,34.4 L642.5,32.9 L643.2,31.5 L643.9,30.3 L644.8,29.2 L645.8,28.1 L646.8,27.1 L647.9,26.3 L649.3,25.7 L651.0,25.4 L653.1,25.3 L655.1,25.3 L656.7,25.4 L657.8,25.6 L658.5,25.9 L659.1,26.2 L659.7,26.6 L660.5,27.0 L661.3,27.6 L662.1,28.0 L662.7,28.4 L663.2,28.6 L663.6,28.7 L664.0,28.7 L664.2,28.7" fill="none" stroke="#1a6fc7" stroke-width="1.8" stroke-linejoin="round" stroke-linecap="round" />
<rect x="415" y="81.5" width="2.5" height="2.5" fill="#000"/>
<rect x="660.5" y="81.6" width="4" height="1.6" fill="#000"/>
<text x="408.6" y="12.4" font-size="16" text-anchor="end">20</text>
<text x="409" y="87.9" font-size="16" text-anchor="end">0</text>
<text x="407.9" y="166.4" font-size="16" text-anchor="end">-20</text>
<text x="416.9" y="183" font-size="16">0</text>
<text x="466.7" y="183" font-size="16">0.01</text>
<text x="529.2" y="183" font-size="16">0.02</text>
<text x="588.6" y="183" font-size="16">0.03</text>
<text x="652" y="183" font-size="16">0.04</text>
<text x="543" y="207" font-size="18" text-anchor="middle">(b)</text>
<text transform="translate(388,80) rotate(-90)" font-size="18.5" text-anchor="middle">Load current (A)</text>
<text x="569.5" y="49.2" font-size="19.5" font-style="italic">i<tspan font-size="15.5" dy="3.2" dx="0">la</tspan></text>
<text x="612.2" y="38" font-size="19.5" font-style="italic">i<tspan font-size="15.5" dy="3.2" dx="0">lc</tspan></text>
<text x="607.7" y="143.5" font-size="19.5" font-style="italic">i<tspan font-size="15.5" dy="3.2" dx="0">lb</tspan></text>
<text x="491.5" y="134" font-size="14.5" text-anchor="middle">Load Step</text>
<text x="491.7" y="151.1" font-size="14.7" text-anchor="middle">changes</text>
<line x1="519.8" y1="119.9" x2="533" y2="106.5" stroke="#000" stroke-width="1.6"/>
<polygon points="540.6,99 537.5,111.5 528.5,102.5" fill="#000"/>
<line x1="72.1" y1="304.95" x2="320.1" y2="304.95" stroke="#d9d9d9" stroke-width="1.5"/>
<line x1="196.6" y1="226.9" x2="196.6" y2="385.4" stroke="#d9d9d9" stroke-width="1.2"/>
<rect x="72.1" y="226.9" width="248.00000000000003" height="158.49999999999997" fill="none" stroke="#c4c4c4" stroke-width="2"/>
<path d="M77.8,316.2 L78.7,317.4 L79.6,318.6 L80.5,320.0 L81.4,321.6 L82.4,323.3 L83.4,325.0 L84.4,326.6 L85.5,328.0 L86.6,329.3 L87.7,330.6 L88.9,331.8 L90.2,333.1 L91.6,334.3 L92.9,335.4 L94.1,336.3 L95.1,336.8 L95.9,337.0 L96.7,337.1 L97.5,337.2 L98.3,337.3 L99.1,337.3 L99.9,337.2 L100.8,337.0 L101.8,336.7 L102.9,336.3 L104.0,335.7 L105.3,334.8 L106.7,333.6 L108.2,332.0 L109.8,330.4 L111.3,328.8 L112.8,327.3 L114.3,325.9 L115.8,324.4 L117.3,322.8 L118.8,321.0 L120.3,319.1 L121.8,317.2 L123.2,315.4 L124.6,313.8 L125.9,312.3 L127.1,310.9 L128.2,309.6 L129.1,308.5 L129.9,307.5 L130.7,306.6 L131.5,305.5 L132.3,304.3 L133.2,303.1 L134.0,301.7 L135.0,300.2 L136.1,298.4 L137.2,296.5 L138.4,294.5 L139.6,292.5 L140.8,290.6 L142.1,288.7 L143.3,286.9 L144.6,285.1 L145.9,283.3 L147.3,281.6 L148.6,279.9 L149.9,278.4 L151.0,277.0 L152.1,275.8 L153.2,274.7 L154.3,273.9 L155.6,273.4 L156.9,273.2 L158.3,273.1 L159.6,273.1 L160.9,273.1 L162.2,273.3 L163.6,273.5 L164.8,273.9 L165.9,274.4 L167.0,275.1 L168.1,275.9 L169.3,276.9 L170.7,278.1 L172.2,279.6 L173.7,281.1 L175.2,282.8 L176.7,284.6 L178.2,286.4 L179.7,288.4 L181.2,290.3 L182.7,292.2 L184.3,294.2 L185.8,296.1 L187.2,297.8 L188.4,299.3 L189.6,300.7 L190.6,301.9 L191.6,303.0 L192.4,303.9 L193.1,304.7 L193.8,305.5 L194.5,306.5 L195.3,307.9 L196.2,309.6 L197.0,311.2 L197.8,312.5 L198.4,313.4 L198.9,314.1 L199.4,314.6 L200.3,315.0 L201.7,315.2 L203.5,315.3 L205.3,315.2 L206.7,315.0 L207.6,314.6 L208.1,314.0 L208.5,313.3 L208.9,312.5 L209.3,311.6 L209.7,310.7 L210.1,309.5 L210.5,308.0 L210.9,305.9 L211.2,303.5 L211.6,300.9 L212.0,298.5 L212.4,296.2 L212.8,294.0 L213.2,291.9 L213.6,290.3 L214.1,289.2 L214.5,288.4 L215.0,288.0 L215.6,287.7 L216.2,287.6 L216.8,287.8 L217.5,288.2 L218.2,288.7 L218.9,289.3 L219.7,290.0 L220.4,290.9 L221.3,291.8 L222.3,292.8 L223.3,294.0 L224.4,295.2 L225.4,296.4 L226.3,297.6 L227.2,298.8 L228.1,300.0 L228.9,301.0 L229.6,301.9 L230.3,302.6 L230.9,303.2 L231.5,303.8 L232.1,304.4 L232.7,305.0 L233.3,305.3 L234.0,305.3 L234.8,304.7 L235.8,303.7 L236.7,302.6 L237.6,301.5 L238.4,300.6 L239.2,299.7 L239.9,298.9 L240.7,297.9 L241.5,296.8 L242.3,295.7 L243.0,294.5 L243.8,293.4 L244.6,292.3 L245.3,291.2 L246.1,290.2 L246.8,289.3 L247.5,288.6 L248.2,288.0 L248.8,287.6 L249.4,287.4 L250.0,287.3 L250.5,287.4 L251.0,287.7 L251.5,288.2 L251.9,288.9 L252.3,289.9 L252.7,291.1 L253.0,292.3 L253.3,293.7 L253.5,295.2 L253.8,296.9 L254.0,298.5 L254.2,300.5 L254.4,302.7 L254.6,304.6 L255.0,305.3 L255.5,304.5 L256.2,302.6 L256.8,300.2 L257.5,298.0 L258.1,296.1 L258.7,294.1 L259.4,292.0 L260.0,290.0 L260.7,288.0 L261.4,286.0 L262.0,284.0 L262.6,281.8 L263.0,279.4 L263.4,276.9 L263.7,274.3 L264.1,271.5 L264.6,268.6 L265.1,265.6 L265.6,262.5 L266.1,259.4 L266.6,256.2 L267.2,252.8 L267.7,249.7 L268.2,247.3 L268.7,245.7 L269.2,244.7 L269.7,244.0 L270.2,243.6 L270.7,243.3 L271.2,243.3 L271.7,243.6 L272.2,244.2 L272.7,245.2 L273.2,246.5 L273.7,247.9 L274.2,249.3 L274.6,250.8 L275.0,252.4 L275.4,253.7 L275.8,254.3 L276.1,254.0 L276.5,252.9 L276.8,251.6 L277.3,250.3 L277.9,249.1 L278.6,247.7 L279.4,246.4 L280.3,245.2 L281.2,244.2 L282.2,243.4 L283.2,242.7 L284.3,242.2 L285.5,241.9 L286.9,241.8 L288.2,241.9 L289.4,242.2 L290.3,242.6 L291.0,243.1 L291.7,244.0 L292.4,245.2 L293.2,246.9 L294.1,249.1 L295.1,251.5 L296.0,254.0 L297.0,256.6 L298.0,259.4 L299.0,262.2 L300.0,265.0 L300.9,267.5 L301.8,270.0 L302.7,272.6 L303.6,275.6 L304.6,279.3 L305.6,283.5 L306.7,287.8 L307.6,291.8 L308.4,295.5 L309.2,299.0 L309.9,302.3 L310.6,304.9 L311.2,306.9 L311.7,308.5 L312.2,309.5 L312.7,310.0 L313.2,309.8 L313.7,309.0 L314.2,307.9 L314.7,306.9 L315.2,305.8 L315.7,304.4 L316.2,303.3 L316.7,302.9 L317.2,303.5 L317.6,304.7 L318.0,306.3 L318.5,308.0 L319.0,309.9 L319.6,312.0 L320.1,314.1 L320.5,316.0 L320.8,317.6 L321.1,319.0 L321.3,320.2 L321.5,321.0 L320.0,305.0 L319.8,304.1 L319.4,302.9 L319.0,301.4 L318.7,299.9 L318.5,298.1 L318.2,296.0 L318.0,294.1 L317.7,292.8 L317.3,292.4 L316.7,292.7 L316.2,293.2 L315.7,293.8 L315.4,294.6 L315.1,295.8 L314.9,296.7 L314.5,296.8 L314.1,295.8 L313.6,294.1 L313.0,291.9 L312.3,289.7 L311.5,287.4 L310.6,285.0 L309.6,282.3 L308.6,279.6 L307.6,276.7 L306.6,273.7 L305.5,270.6 L304.5,267.5 L303.5,264.4 L302.4,261.3 L301.4,258.2 L300.5,255.3 L299.7,252.6 L298.9,250.0 L298.2,247.5 L297.5,245.2 L296.7,243.0 L295.9,240.9 L295.2,238.9 L294.4,237.1 L293.7,235.3 L293.0,233.7 L292.2,232.2 L291.4,231.1 L290.5,230.3 L289.6,229.8 L288.6,229.6 L287.4,229.5 L286.0,229.6 L284.3,229.9 L282.7,230.5 L281.3,231.1 L280.1,231.9 L279.1,232.9 L278.1,234.0 L277.3,235.1 L276.6,236.6 L276.1,238.3 L275.7,239.8 L275.2,240.2 L274.7,239.1 L274.2,237.0 L273.7,234.7 L273.2,233.1 L272.7,232.2 L272.3,231.6 L271.8,231.5 L271.2,232.1 L270.5,233.4 L269.8,235.3 L269.0,237.9 L268.2,241.2 L267.4,245.6 L266.7,251.0 L265.9,256.7 L265.1,262.0 L264.3,266.7 L263.5,271.3 L262.8,275.7 L262.0,280.0 L261.2,284.3 L260.4,288.5 L259.7,292.4 L259.0,296.0 L258.4,299.2 L257.9,302.0 L257.5,304.5 L257.1,306.7 L256.9,308.5 L256.8,309.9 L256.7,311.0 L256.6,311.8 L256.4,312.3 L256.1,312.6 L255.8,312.4 L255.5,311.8 L255.2,310.4 L254.8,308.3 L254.4,306.2 L254.0,304.6 L253.6,303.7 L253.1,303.2 L252.6,302.8 L252.0,302.6 L251.3,302.4 L250.5,302.3 L249.7,302.4 L248.9,302.6 L248.1,303.0 L247.4,303.6 L246.6,304.3 L245.8,305.1 L244.8,306.1 L243.8,307.3 L242.7,308.5 L241.7,309.7 L240.7,310.8 L239.6,311.8 L238.6,312.8 L237.6,313.8 L236.7,314.9 L235.8,316.0 L234.9,317.0 L234.0,317.4 L233.2,317.1 L232.3,316.4 L231.5,315.3 L230.5,314.3 L229.3,313.3 L228.1,312.1 L226.7,310.9 L225.4,309.7 L224.1,308.4 L222.7,307.1 L221.4,305.7 L220.2,304.6 L219.0,303.7 L217.9,302.9 L216.9,302.2 L216.1,301.5 L215.6,300.6 L215.3,299.6 L215.1,298.9 L214.8,299.0 L214.4,300.1 L214.0,302.0 L213.6,304.3 L213.1,306.7 L212.6,309.4 L212.1,312.4 L211.5,315.4 L211.0,318.0 L210.6,320.2 L210.2,322.1 L209.8,323.7 L209.2,324.9 L208.4,325.7 L207.3,326.2 L206.3,326.4 L205.2,326.5 L204.1,326.6 L203.0,326.7 L202.0,326.5 L201.2,325.7 L200.7,324.3 L200.4,322.5 L200.1,320.2 L199.6,317.7 L198.7,314.7 L197.6,311.2 L196.5,307.7 L195.6,304.8 L195.1,302.8 L194.8,301.4 L194.6,300.1 L194.0,298.4 L193.1,296.2 L191.9,293.8 L190.6,291.2 L189.2,288.8 L187.7,286.5 L186.1,284.3 L184.4,282.1 L182.7,279.9 L180.9,277.6 L179.0,275.2 L177.1,272.9 L175.2,270.9 L173.3,269.1 L171.5,267.5 L169.7,266.1 L167.8,264.9 L165.9,264.0 L164.0,263.4 L162.1,263.0 L160.3,262.7 L158.7,262.6 L157.3,262.6 L155.8,262.8 L154.3,263.4 L152.6,264.4 L150.7,265.7 L148.9,267.1 L147.4,268.5 L146.2,269.8 L145.2,271.2 L144.3,272.6 L143.4,274.0 L142.5,275.4 L141.6,276.7 L140.8,278.1 L140.2,279.6 L139.9,281.3 L139.7,283.1 L139.6,285.0 L139.4,286.8 L139.0,288.5 L138.6,290.2 L138.1,292.0 L137.5,294.0 L136.9,296.4 L136.1,299.2 L135.4,301.9 L134.6,304.4 L133.9,306.3 L133.2,307.9 L132.4,309.6 L131.4,311.6 L130.2,314.1 L128.9,316.9 L127.4,319.9 L125.8,322.8 L123.9,325.7 L121.8,328.7 L119.6,331.6 L117.8,334.1 L116.3,336.1 L115.1,337.8 L114.0,339.3 L112.8,340.7 L111.6,342.0 L110.4,343.2 L109.3,344.2 L108.2,345.1 L107.3,345.9 L106.4,346.5 L105.5,347.1 L104.6,347.6 L103.6,348.2 L102.5,348.8 L101.3,349.2 L100.0,349.5 L98.4,349.6 L96.5,349.5 L94.6,349.2 L93.0,348.7 L91.7,347.8 L90.6,346.7 L89.6,345.4 L88.4,344.1 L87.0,342.8 L85.5,341.3 L84.0,339.9 L82.7,338.3 L81.5,336.7 L80.4,335.1 L79.4,333.4 L78.6,331.4 L78.1,328.8 L77.8,325.8 L77.6,323.0 L77.5,321.0Z" fill="#c0c0c0" stroke="#c0c0c0" stroke-width="1" stroke-linejoin="round"/>
<path d="M73.3,308.8 L73.3,309.0 L73.3,309.4 L73.5,309.8 L73.8,310.5 L74.4,311.4 L75.2,312.5 L76.1,313.8 L77.0,315.0 L77.8,316.2 L78.7,317.4 L79.6,318.6 L80.5,320.0 L81.4,321.6 L82.4,323.3 L83.4,325.0 L84.4,326.6 L85.5,328.0 L86.6,329.3 L87.7,330.6 L88.9,331.8 L90.2,333.1 L91.6,334.3 L92.9,335.4 L94.1,336.3 L95.1,336.8 L95.9,337.0 L96.7,337.1 L97.5,337.2 L98.3,337.3 L99.1,337.3 L99.9,337.2 L100.8,337.0 L101.8,336.7 L102.9,336.3 L104.0,335.7 L105.3,334.8 L106.7,333.6 L108.2,332.0 L109.8,330.4 L111.3,328.8 L112.8,327.3 L114.3,325.9 L115.8,324.4 L117.3,322.8 L118.8,321.0 L120.3,319.1 L121.8,317.2 L123.2,315.4 L124.6,313.8 L125.9,312.3 L127.1,310.9 L128.2,309.6 L129.1,308.5 L129.9,307.5 L130.7,306.6 L131.5,305.5 L132.3,304.3 L133.2,303.1 L134.0,301.7 L135.0,300.2 L136.1,298.4 L137.2,296.5 L138.4,294.5 L139.6,292.5 L140.8,290.6 L142.1,288.7 L143.3,286.9 L144.6,285.1 L145.9,283.3 L147.3,281.6 L148.6,279.9 L149.9,278.4 L151.0,277.0 L152.1,275.8 L153.2,274.7 L154.3,273.9 L155.6,273.4 L156.9,273.2 L158.3,273.1 L159.6,273.1 L160.9,273.1 L162.2,273.3 L163.6,273.5 L164.8,273.9 L165.9,274.4 L167.0,275.1 L168.1,275.9 L169.3,276.9 L170.7,278.1 L172.2,279.6 L173.7,281.1 L175.2,282.8 L176.7,284.6 L178.2,286.4 L179.7,288.4 L181.2,290.3 L182.7,292.2 L184.3,294.2 L185.8,296.1 L187.2,297.8 L188.4,299.3 L189.6,300.7 L190.6,301.9 L191.6,303.0 L192.4,303.9 L193.1,304.7 L193.8,305.5 L194.5,306.5 L195.3,307.9 L196.2,309.6 L197.0,311.2 L197.8,312.5 L198.4,313.4 L198.9,314.1 L199.4,314.6 L200.3,315.0 L201.7,315.2 L203.5,315.3 L205.3,315.2 L206.7,315.0 L207.6,314.6 L208.1,314.0 L208.5,313.3 L208.9,312.5 L209.3,311.6 L209.7,310.7 L210.1,309.5 L210.5,308.0 L210.9,305.9 L211.2,303.5 L211.6,300.9 L212.0,298.5 L212.4,296.2 L212.8,294.0 L213.2,291.9 L213.6,290.3 L214.1,289.2 L214.5,288.4 L215.0,288.0 L215.6,287.7 L216.2,287.6 L216.8,287.8 L217.5,288.2 L218.2,288.7 L218.9,289.3 L219.7,290.0 L220.4,290.9 L221.3,291.8 L222.3,292.8 L223.3,294.0 L224.4,295.2 L225.4,296.4 L226.3,297.6 L227.2,298.8 L228.1,300.0 L228.9,301.0 L229.6,301.9 L230.3,302.6 L230.9,303.2 L231.5,303.8 L232.1,304.4 L232.7,305.0 L233.3,305.3 L234.0,305.3 L234.8,304.7 L235.8,303.7 L236.7,302.6 L237.6,301.5 L238.4,300.6 L239.2,299.7 L239.9,298.9 L240.7,297.9 L241.5,296.8 L242.3,295.7 L243.0,294.5 L243.8,293.4 L244.6,292.3 L245.3,291.2 L246.1,290.2 L246.8,289.3 L247.5,288.6 L248.2,288.0 L248.8,287.6 L249.4,287.4 L250.0,287.3 L250.5,287.4 L251.0,287.7 L251.5,288.2 L251.9,288.9 L252.3,289.9 L252.7,291.1 L253.0,292.3 L253.3,293.7 L253.5,295.2 L253.8,296.9 L254.0,298.5 L254.2,300.5 L254.4,302.7 L254.6,304.6 L255.0,305.3 L255.5,304.5 L256.2,302.6 L256.8,300.2 L257.5,298.0 L258.1,296.1 L258.7,294.1 L259.4,292.0 L260.0,290.0 L260.7,288.0 L261.4,286.0 L262.0,284.0 L262.6,281.8 L263.0,279.4 L263.4,276.9 L263.7,274.3 L264.1,271.5 L264.6,268.6 L265.1,265.6 L265.6,262.5 L266.1,259.4 L266.6,256.2 L267.2,252.8 L267.7,249.7 L268.2,247.3 L268.7,245.7 L269.2,244.7 L269.7,244.0 L270.2,243.6 L270.7,243.3 L271.2,243.3 L271.7,243.6 L272.2,244.2 L272.7,245.2 L273.2,246.5 L273.7,247.9 L274.2,249.3 L274.6,250.8 L275.0,252.4 L275.4,253.7 L275.8,254.3 L276.1,254.0 L276.5,252.9 L276.8,251.6 L277.3,250.3 L277.9,249.1 L278.6,247.7 L279.4,246.4 L280.3,245.2 L281.2,244.2 L282.2,243.4 L283.2,242.7 L284.3,242.2 L285.5,241.9 L286.9,241.8 L288.2,241.9 L289.4,242.2 L290.3,242.6 L291.0,243.1 L291.7,244.0 L292.4,245.2 L293.2,246.9 L294.1,249.1 L295.1,251.5 L296.0,254.0 L297.0,256.6 L298.0,259.4 L299.0,262.2 L300.0,265.0 L300.9,267.5 L301.8,270.0 L302.7,272.6 L303.6,275.6 L304.6,279.3 L305.6,283.5 L306.7,287.8 L307.6,291.8 L308.4,295.5 L309.2,299.0 L309.9,302.3 L310.6,304.9 L311.2,306.9 L311.7,308.5 L312.2,309.5 L312.7,310.0 L313.2,309.8 L313.7,309.0 L314.2,307.9 L314.7,306.9 L315.2,305.8 L315.7,304.4 L316.2,303.3 L316.7,302.9 L317.2,303.5 L317.6,304.7 L318.0,306.3 L318.5,308.0 L319.0,309.9 L319.6,312.0 L320.1,314.1 L320.5,316.0 L320.8,317.6 L321.1,319.0 L321.3,320.2 L321.5,321.0" fill="none" stroke="#000" stroke-width="2.3" stroke-linejoin="round" stroke-linecap="round" />
<path d="M73.3,308.8 L73.3,309.0 L73.3,309.4 L73.5,309.8 L73.8,310.5 L74.4,311.4 L75.2,312.5 L76.1,313.8 L77.0,315.0 L77.8,316.2 L78.7,317.4 L79.6,318.6 L80.5,320.0 L81.4,321.6 L82.4,323.3 L83.4,325.0 L84.4,326.6" fill="none" stroke="#ff00ff" stroke-width="4.2" stroke-linecap="round"/>
<path d="M73.3,308.8 L73.3,309.0 L73.3,309.4 L73.5,309.8 L73.8,310.5 L74.4,311.4 L75.2,312.5 L76.1,313.8 L77.0,315.0 L77.8,316.2 L78.7,317.4 L79.6,318.6 L80.5,320.0 L81.4,321.6 L82.4,323.3 L83.4,325.0 L84.4,326.6" fill="none" stroke="#000" stroke-width="0.8" stroke-dasharray="1 2.5" opacity="0.6"/>
<path d="M130.7,306.6 L131.5,305.5 L132.3,304.3 L133.2,303.1 L134.0,301.7 L135.0,300.2 L136.1,298.4 L137.2,296.5 L138.4,294.5" fill="none" stroke="#ff00ff" stroke-width="4.2" stroke-linecap="round"/>
<path d="M130.7,306.6 L131.5,305.5 L132.3,304.3 L133.2,303.1 L134.0,301.7 L135.0,300.2 L136.1,298.4 L137.2,296.5 L138.4,294.5" fill="none" stroke="#000" stroke-width="0.8" stroke-dasharray="1 2.5" opacity="0.6"/>
<path d="M191.6,303.0 L192.4,303.9 L193.1,304.7 L193.8,305.5 L194.5,306.5 L195.3,307.9 L196.2,309.6 L197.0,311.2 L197.8,312.5 L198.4,313.4 L198.9,314.1 L199.4,314.6 L200.3,315.0" fill="none" stroke="#ff00ff" stroke-width="4.2" stroke-linecap="round"/>
<path d="M191.6,303.0 L192.4,303.9 L193.1,304.7 L193.8,305.5 L194.5,306.5 L195.3,307.9 L196.2,309.6 L197.0,311.2 L197.8,312.5 L198.4,313.4 L198.9,314.1 L199.4,314.6 L200.3,315.0" fill="none" stroke="#000" stroke-width="0.8" stroke-dasharray="1 2.5" opacity="0.6"/>
<path d="M231.5,303.8 L232.1,304.4 L232.7,305.0 L233.3,305.3 L234.0,305.3 L234.8,304.7 L235.8,303.7 L236.7,302.6 L237.6,301.5 L238.4,300.6 L239.2,299.7 L239.9,298.9 L240.7,297.9" fill="none" stroke="#ff00ff" stroke-width="4.2" stroke-linecap="round"/>
<path d="M231.5,303.8 L232.1,304.4 L232.7,305.0 L233.3,305.3 L234.0,305.3 L234.8,304.7 L235.8,303.7 L236.7,302.6 L237.6,301.5 L238.4,300.6 L239.2,299.7 L239.9,298.9 L240.7,297.9" fill="none" stroke="#000" stroke-width="0.8" stroke-dasharray="1 2.5" opacity="0.6"/>
<path d="M255.0,305.3 L255.5,304.5 L256.2,302.6 L256.8,300.2 L257.5,298.0 L258.1,296.1 L258.7,294.1 L259.4,292.0 L260.0,290.0 L260.7,288.0 L261.4,286.0 L262.0,284.0 L262.6,281.8" fill="none" stroke="#ff00ff" stroke-width="4.2" stroke-linecap="round"/>
<path d="M255.0,305.3 L255.5,304.5 L256.2,302.6 L256.8,300.2 L257.5,298.0 L258.1,296.1 L258.7,294.1 L259.4,292.0 L260.0,290.0 L260.7,288.0 L261.4,286.0 L262.0,284.0 L262.6,281.8" fill="none" stroke="#000" stroke-width="0.8" stroke-dasharray="1 2.5" opacity="0.6"/>
<path d="M293.2,246.9 L294.1,249.1 L295.1,251.5 L296.0,254.0 L297.0,256.6 L298.0,259.4 L299.0,262.2 L300.0,265.0 L300.9,267.5 L301.8,270.0 L302.7,272.6" fill="none" stroke="#ff00ff" stroke-width="4.2" stroke-linecap="round"/>
<path d="M293.2,246.9 L294.1,249.1 L295.1,251.5 L296.0,254.0 L297.0,256.6 L298.0,259.4 L299.0,262.2 L300.0,265.0 L300.9,267.5 L301.8,270.0 L302.7,272.6" fill="none" stroke="#000" stroke-width="0.8" stroke-dasharray="1 2.5" opacity="0.6"/>
<path d="M316.7,302.9 L317.2,303.5 L317.6,304.7 L318.0,306.3 L318.5,308.0 L319.0,309.9 L319.6,312.0 L320.1,314.1 L320.5,316.0 L320.8,317.6 L321.1,319.0 L321.3,320.2 L321.5,321.0" fill="none" stroke="#ff00ff" stroke-width="4.2" stroke-linecap="round"/>
<path d="M316.7,302.9 L317.2,303.5 L317.6,304.7 L318.0,306.3 L318.5,308.0 L319.0,309.9 L319.6,312.0 L320.1,314.1 L320.5,316.0 L320.8,317.6 L321.1,319.0 L321.3,320.2 L321.5,321.0" fill="none" stroke="#000" stroke-width="0.8" stroke-dasharray="1 2.5" opacity="0.6"/>
<text x="59.5" y="233" font-size="16" text-anchor="end">5</text>
<text x="59.5" y="310.9" font-size="16" text-anchor="end">0</text>
<text x="59.8" y="390.95" font-size="16" text-anchor="end">-5</text>
<text x="73.8" y="409.5" font-size="16">0</text>
<text x="122.3" y="409.5" font-size="16">0.01</text>
<text x="184.2" y="409.5" font-size="16">0.02</text>
<text x="246" y="409.5" font-size="16">0.03</text>
<text x="306.4" y="409.5" font-size="16">0.04</text>
<text x="192.7" y="434.3" font-size="18.5" text-anchor="middle">Time (Sec)</text>
<text x="198.4" y="460.5" font-size="18" text-anchor="middle">(c)</text>
<text transform="translate(17,308.5) rotate(-90)" font-size="18.5" text-anchor="middle">Compensator current (A)</text>
<text x="179" y="251.3" font-size="19.5" font-style="italic">i<tspan font-size="15.5" dy="3.5">fa</tspan></text>
<line x1="176" y1="244.2" x2="168.5" y2="255.5" stroke="#000" stroke-width="1.6"/>
<polygon points="164.3,262.1 165.7,250 175.8,255.9" fill="#000"/>
<text x="139.6" y="337.9" font-size="19.5" font-style="italic">i<tspan font-size="15.5" dy="3">fa</tspan><tspan font-style="normal" font-size="23" dy="-3" dx="1">*</tspan></text>
<line x1="155.1" y1="318.5" x2="166.5" y2="287" stroke="#000" stroke-width="1.5"/>
<polygon points="170.3,279.7 161.3,285.7 171.8,289.4" fill="#000"/>
<line x1="417" y1="301.5" x2="667.4" y2="301.5" stroke="#d9d9d9" stroke-width="1.5"/>
<line x1="541.3" y1="222.9" x2="541.3" y2="381" stroke="#d9d9d9" stroke-width="1.2"/>
<rect x="417" y="222.9" width="250.39999999999998" height="158.1" fill="none" stroke="#c4c4c4" stroke-width="2"/>
<path d="M416.2,302.8 L416.7,302.5 L417.3,302.0 L418.1,301.4 L418.8,300.7 L419.4,299.8 L420.1,298.9 L420.7,297.8 L421.3,296.8 L421.8,295.8 L422.2,294.7 L422.7,293.8 L423.2,293.0 L423.8,292.6 L424.4,292.4 L425.0,292.1 L425.8,291.7 L426.7,290.9 L427.6,289.9 L428.6,288.8 L429.6,287.9 L430.5,287.2 L431.5,286.5 L432.4,285.9 L433.5,285.3 L434.7,284.6 L436.0,283.9 L437.3,283.2 L438.6,282.7 L439.8,282.3 L441.1,282.0 L442.3,281.8 L443.7,281.7 L445.2,281.6 L446.9,281.6 L448.6,281.6 L450.1,281.7 L451.5,281.9 L452.7,282.1 L453.9,282.4 L455.2,282.7 L456.5,283.1 L457.8,283.6 L459.1,284.1 L460.4,284.7 L461.7,285.4 L463.0,286.2 L464.2,287.0 L465.5,287.9 L466.8,288.8 L468.1,289.8 L469.3,290.8 L470.6,291.7 L471.9,292.5 L473.2,293.3 L474.5,294.1 L475.7,294.9 L476.7,295.6 L477.6,296.3 L478.5,297.1 L479.5,298.1 L480.5,299.4 L481.6,300.9 L482.7,302.5 L483.8,303.9 L484.8,305.1 L485.7,306.2 L486.7,307.3 L487.7,308.3 L488.9,309.3 L490.1,310.3 L491.4,311.2 L492.8,312.2 L494.3,313.2 L495.9,314.2 L497.6,315.1 L499.2,316.0 L500.8,316.8 L502.4,317.5 L504.0,318.2 L505.6,318.6 L507.2,318.8 L508.8,318.9 L510.4,318.8 L512.0,318.6 L513.6,318.3 L515.2,317.9 L516.8,317.3 L518.4,316.7 L520.0,316.0 L521.6,315.2 L523.2,314.3 L524.8,313.5 L526.4,312.7 L528.0,312.0 L529.6,311.2 L531.2,310.3 L532.8,309.2 L534.4,307.9 L536.0,306.5 L537.6,305.1 L539.2,303.6 L540.7,302.1 L542.3,300.5 L544.0,298.7 L545.8,296.7 L547.7,294.4 L549.6,292.2 L551.4,290.2 L553.0,288.5 L554.5,286.9 L556.1,285.4 L557.8,283.8 L559.7,281.9 L561.8,279.9 L564.0,277.9 L566.3,276.3 L568.9,275.0 L571.6,273.8 L574.4,273.0 L577.0,272.5 L579.3,272.4 L581.5,272.7 L583.6,273.3 L585.5,274.2 L587.3,275.4 L588.9,276.9 L590.4,278.7 L592.0,280.6 L593.6,282.8 L595.3,285.2 L596.9,287.7 L598.4,290.2 L599.8,292.6 L601.2,295.0 L602.5,297.4 L603.7,299.8 L604.8,302.2 L605.9,304.7 L607.0,307.1 L608.0,309.4 L609.1,311.6 L610.2,313.7 L611.2,315.8 L612.2,317.9 L613.0,320.0 L613.7,322.0 L614.5,324.1 L615.6,326.5 L617.1,329.4 L618.8,332.6 L620.7,335.7 L622.6,338.3 L624.6,340.2 L626.6,341.6 L628.7,342.7 L630.8,343.4 L632.9,343.7 L635.0,343.6 L637.1,343.2 L639.1,342.5 L640.9,341.6 L642.7,340.4 L644.4,338.9 L646.1,337.1 L647.9,334.9 L649.7,332.3 L651.4,329.5 L653.2,326.5 L654.9,323.2 L656.7,319.6 L658.4,315.9 L660.2,312.4 L662.3,308.8 L664.5,305.1 L666.6,301.8 L668.0,299.5" fill="none" stroke="#ff1414" stroke-width="2.3" stroke-linejoin="round" stroke-linecap="round" />
<path d="M416.2,304.2 L416.7,303.9 L417.3,303.4 L418.1,302.8 L418.8,302.1 L419.4,301.2 L420.1,300.3 L420.7,299.2 L421.3,298.2 L421.8,297.2 L422.2,296.1 L422.7,295.2 L423.2,294.4 L423.8,294.0 L424.4,293.8 L425.0,293.5 L425.8,293.1 L426.7,292.3 L427.6,291.3 L428.6,290.2 L429.6,289.3 L430.5,288.6 L431.5,287.9 L432.4,287.3 L433.5,286.7 L434.7,286.0 L436.0,285.3 L437.3,284.6 L438.6,284.1 L439.8,283.7 L441.1,283.4 L442.3,283.2 L443.7,283.1 L445.2,283.0 L446.9,283.0 L448.6,283.0 L450.1,283.1 L451.5,283.3 L452.7,283.5 L453.9,283.8 L455.2,284.1 L456.5,284.5 L457.8,285.0 L459.1,285.5 L460.4,286.1 L461.7,286.8 L463.0,287.6 L464.2,288.4 L465.5,289.3 L466.8,290.2 L468.1,291.2 L469.3,292.2 L470.6,293.1 L471.9,293.9 L473.2,294.7 L474.5,295.5 L475.7,296.3 L476.7,297.0 L477.6,297.7 L478.5,298.5 L479.5,299.5 L480.5,300.8 L481.6,302.3 L482.7,303.9 L483.8,305.3 L484.8,306.5 L485.7,307.6 L486.7,308.7 L487.7,309.7 L488.9,310.7 L490.1,311.7 L491.4,312.6 L492.8,313.6 L494.3,314.6 L495.9,315.6 L497.6,316.5 L499.2,317.4 L500.8,318.2 L502.4,318.9 L504.0,319.6 L505.6,320.0 L507.2,320.2 L508.8,320.3 L510.4,320.2 L512.0,320.0 L513.6,319.7 L515.2,319.2 L516.8,318.7 L518.4,318.1 L520.0,317.4 L521.6,316.6 L523.2,315.7 L524.8,314.9 L526.4,314.1 L528.0,313.4 L529.6,312.6 L531.2,311.7 L532.8,310.6 L534.4,309.3 L536.0,307.9 L537.6,306.5 L539.2,305.0 L540.7,303.5 L542.3,301.9 L544.0,300.1 L545.8,298.1 L547.7,295.8 L549.6,293.6 L551.4,291.6 L553.0,289.9 L554.5,288.3 L556.1,286.8 L557.8,285.2 L559.7,283.3 L561.8,281.3 L564.0,279.3 L566.3,277.7 L568.9,276.4 L571.6,275.2 L574.4,274.4 L577.0,273.9 L579.3,273.8 L581.5,274.1 L583.6,274.7 L585.5,275.6 L587.3,276.8 L588.9,278.3 L590.4,280.1 L592.0,282.0 L593.6,284.2 L595.3,286.6 L596.9,289.1 L598.4,291.6 L599.8,294.0 L601.2,296.4 L602.5,298.8 L603.7,301.2 L604.8,303.6 L605.9,306.1 L607.0,308.5 L608.0,310.8 L609.1,313.0 L610.2,315.1 L611.2,317.2 L612.2,319.3 L613.0,321.4 L613.7,323.4 L614.5,325.5 L615.6,327.9 L617.1,330.8 L618.8,334.0 L620.7,337.1 L622.6,339.7 L624.6,341.6 L626.6,343.0 L628.7,344.1 L630.8,344.8 L632.9,345.1 L635.0,345.0 L637.1,344.6 L639.1,343.9 L640.9,343.0 L642.7,341.8 L644.4,340.3 L646.1,338.5 L647.9,336.3 L649.7,333.7 L651.4,330.9 L653.2,327.9 L654.9,324.6 L656.7,321.0 L658.4,317.3 L660.2,313.8 L662.3,310.2 L664.5,306.5 L666.6,303.2 L668.0,300.9" fill="none" stroke="#ff1414" stroke-width="2.3" stroke-linejoin="round" stroke-linecap="round" />
<path d="M416.2,316.7 L417.2,317.0 L418.7,317.5 L420.4,317.9 L422.0,318.3 L423.6,318.6 L425.2,318.8 L426.8,319.0 L428.4,319.0 L430.0,318.9 L431.7,318.6 L433.3,318.3 L434.8,317.9 L436.1,317.4 L437.4,316.8 L438.6,316.1 L439.9,315.4 L441.4,314.6 L443.1,313.8 L444.8,313.0 L446.3,312.2 L447.7,311.4 L448.9,310.7 L450.2,309.9 L451.4,309.0 L452.7,308.0 L454.0,306.8 L455.3,305.7 L456.5,304.5 L457.6,303.4 L458.6,302.3 L459.6,301.2 L460.4,300.0 L461.1,298.7 L461.6,297.4 L462.2,296.1 L462.9,294.9 L463.7,293.9 L464.6,293.0 L465.6,292.1 L466.8,291.1 L468.2,290.0 L469.9,288.8 L471.5,287.6 L473.1,286.6 L474.4,285.8 L475.7,285.1 L476.9,284.6 L478.3,284.0 L479.9,283.4 L481.6,282.9 L483.4,282.5 L485.1,282.1 L486.7,281.8 L488.3,281.6 L489.9,281.5 L491.5,281.5 L493.1,281.6 L494.8,281.9 L496.4,282.3 L497.9,282.7 L499.3,283.2 L500.5,283.8 L501.7,284.5 L503.0,285.3 L504.3,286.2 L505.6,287.2 L506.9,288.2 L508.2,289.1 L509.5,289.9 L510.8,290.7 L512.1,291.5 L513.3,292.3 L514.3,293.2 L515.3,294.2 L516.2,295.3 L517.1,296.2 L518.1,297.0 L519.1,297.7 L520.0,298.5 L521.0,299.4 L522.0,300.6 L522.9,301.9 L523.9,303.3 L524.8,304.5 L525.7,305.4 L526.6,306.3 L527.6,307.0 L528.6,307.7 L529.8,308.4 L531.1,309.0 L532.4,309.6 L533.7,310.3 L535.0,311.1 L536.3,311.9 L537.6,312.7 L538.9,313.5 L540.1,314.1 L541.2,314.7 L542.4,315.3 L544.0,316.0 L546.1,317.0 L548.5,318.2 L551.1,319.4 L553.5,320.1 L555.7,320.3 L557.9,320.2 L560.0,319.9 L562.1,319.4 L564.2,318.8 L566.4,318.0 L568.5,317.0 L570.6,315.8 L572.8,314.2 L575.0,312.4 L577.1,310.3 L579.1,308.3 L580.9,306.3 L582.6,304.2 L584.1,302.0 L585.5,299.8 L586.7,297.5 L587.6,295.1 L588.6,292.7 L589.8,290.2 L591.3,287.6 L592.9,284.8 L594.6,282.1 L596.2,279.5 L597.8,277.0 L599.3,274.6 L600.9,272.2 L602.6,269.9 L604.6,267.4 L606.7,264.9 L608.9,262.5 L610.9,260.7 L612.7,259.4 L614.5,258.6 L616.2,258.1 L617.9,257.9 L619.7,258.1 L621.5,258.7 L623.3,259.6 L625.0,260.7 L626.5,262.1 L628.0,263.7 L629.4,265.6 L630.8,267.8 L632.3,270.4 L633.7,273.4 L635.2,276.5 L636.7,279.5 L638.2,282.4 L639.7,285.3 L641.1,288.3 L642.6,291.3 L644.1,294.4 L645.6,297.5 L647.0,300.8 L648.5,304.2 L649.9,307.9 L651.3,311.9 L652.8,315.9 L654.3,319.5 L656.0,322.8 L657.8,325.8 L659.6,328.6 L661.4,331.2 L663.2,333.7 L665.1,336.0 L666.8,338.0 L668.0,339.4" fill="none" stroke="#17ae4f" stroke-width="2.3" stroke-linejoin="round" stroke-linecap="round" />
<path d="M416.2,318.1 L417.2,318.4 L418.7,318.9 L420.4,319.3 L422.0,319.7 L423.6,320.0 L425.2,320.2 L426.8,320.4 L428.4,320.4 L430.0,320.3 L431.7,320.0 L433.3,319.7 L434.8,319.3 L436.1,318.8 L437.4,318.2 L438.6,317.5 L439.9,316.8 L441.4,316.0 L443.1,315.2 L444.8,314.4 L446.3,313.6 L447.7,312.8 L448.9,312.1 L450.2,311.3 L451.4,310.4 L452.7,309.4 L454.0,308.2 L455.3,307.1 L456.5,305.9 L457.6,304.8 L458.6,303.7 L459.6,302.6 L460.4,301.4 L461.1,300.1 L461.6,298.8 L462.2,297.5 L462.9,296.3 L463.7,295.3 L464.6,294.4 L465.6,293.5 L466.8,292.5 L468.2,291.4 L469.9,290.2 L471.5,289.0 L473.1,288.0 L474.4,287.2 L475.7,286.5 L476.9,286.0 L478.3,285.4 L479.9,284.8 L481.6,284.3 L483.4,283.9 L485.1,283.5 L486.7,283.2 L488.3,283.0 L489.9,282.9 L491.5,282.9 L493.1,283.0 L494.8,283.3 L496.4,283.7 L497.9,284.1 L499.3,284.6 L500.5,285.2 L501.7,285.9 L503.0,286.7 L504.3,287.6 L505.6,288.6 L506.9,289.6 L508.2,290.5 L509.5,291.3 L510.8,292.1 L512.1,292.9 L513.3,293.7 L514.3,294.6 L515.3,295.6 L516.2,296.7 L517.1,297.6 L518.1,298.4 L519.1,299.1 L520.0,299.9 L521.0,300.8 L522.0,302.0 L522.9,303.3 L523.9,304.7 L524.8,305.9 L525.7,306.8 L526.6,307.7 L527.6,308.4 L528.6,309.1 L529.8,309.8 L531.1,310.4 L532.4,311.0 L533.7,311.7 L535.0,312.5 L536.3,313.3 L537.6,314.1 L538.9,314.9 L540.1,315.5 L541.2,316.1 L542.4,316.7 L544.0,317.4 L546.1,318.4 L548.5,319.6 L551.1,320.8 L553.5,321.5 L555.7,321.7 L557.9,321.6 L560.0,321.3 L562.1,320.8 L564.2,320.2 L566.4,319.4 L568.5,318.4 L570.6,317.2 L572.8,315.6 L575.0,313.8 L577.1,311.7 L579.1,309.7 L580.9,307.7 L582.6,305.6 L584.1,303.4 L585.5,301.2 L586.7,298.9 L587.6,296.5 L588.6,294.1 L589.8,291.6 L591.3,289.0 L592.9,286.2 L594.6,283.5 L596.2,280.9 L597.8,278.4 L599.3,276.0 L600.9,273.6 L602.6,271.3 L604.6,268.8 L606.7,266.3 L608.9,263.9 L610.9,262.1 L612.7,260.8 L614.5,259.9 L616.2,259.5 L617.9,259.3 L619.7,259.5 L621.5,260.1 L623.3,261.0 L625.0,262.1 L626.5,263.5 L628.0,265.1 L629.4,267.0 L630.8,269.2 L632.3,271.8 L633.7,274.8 L635.2,277.9 L636.7,280.9 L638.2,283.8 L639.7,286.7 L641.1,289.7 L642.6,292.7 L644.1,295.8 L645.6,298.9 L647.0,302.2 L648.5,305.6 L649.9,309.3 L651.3,313.3 L652.8,317.3 L654.3,320.9 L656.0,324.2 L657.8,327.2 L659.6,330.0 L661.4,332.6 L663.2,335.1 L665.1,337.4 L666.8,339.4 L668.0,340.8" fill="none" stroke="#17ae4f" stroke-width="2.3" stroke-linejoin="round" stroke-linecap="round" />
<path d="M416.2,283.4 L417.0,283.7 L418.1,284.1 L419.4,284.7 L420.7,285.3 L421.9,286.0 L423.2,286.8 L424.5,287.6 L425.8,288.5 L427.1,289.4 L428.4,290.3 L429.6,291.3 L430.9,292.3 L432.2,293.4 L433.5,294.5 L434.8,295.6 L436.0,296.8 L437.1,298.0 L438.0,299.4 L439.0,300.7 L439.9,301.9 L440.8,303.1 L441.7,304.2 L442.7,305.3 L443.7,306.4 L444.9,307.4 L446.1,308.4 L447.4,309.4 L448.8,310.3 L450.3,311.1 L451.9,311.9 L453.6,312.7 L455.2,313.5 L456.8,314.4 L458.5,315.2 L460.1,316.1 L461.6,316.7 L463.0,317.1 L464.2,317.4 L465.5,317.6 L466.8,317.7 L468.3,317.7 L469.8,317.6 L471.5,317.5 L473.1,317.3 L474.8,317.1 L476.5,316.8 L478.3,316.5 L480.0,316.0 L481.6,315.3 L483.2,314.6 L484.8,313.7 L486.4,312.8 L488.0,311.9 L489.7,311.0 L491.3,310.0 L492.8,309.0 L494.2,308.0 L495.4,306.9 L496.7,305.8 L497.9,304.5 L499.2,303.0 L500.4,301.4 L501.7,299.7 L503.0,298.1 L504.3,296.6 L505.6,295.0 L506.9,293.6 L508.2,292.3 L509.5,291.2 L510.8,290.2 L512.0,289.4 L513.3,288.5 L514.5,287.6 L515.8,286.8 L517.0,286.0 L518.4,285.3 L519.9,284.5 L521.5,283.8 L523.2,283.2 L524.8,282.7 L526.4,282.5 L528.0,282.5 L529.6,282.6 L531.2,282.7 L532.9,282.8 L534.6,283.0 L536.2,283.2 L537.6,283.4 L538.8,283.6 L539.8,283.8 L540.6,283.9 L541.4,283.6 L542.0,282.7 L542.5,281.3 L542.9,280.0 L543.3,279.5 L543.8,280.1 L544.3,281.3 L544.8,282.8 L545.3,284.0 L545.9,284.9 L546.5,285.6 L547.1,286.3 L547.8,286.9 L548.4,287.4 L548.8,287.8 L549.5,288.3 L550.5,289.1 L552.0,290.4 L553.9,291.9 L555.9,293.6 L557.8,295.5 L559.5,297.5 L561.1,299.7 L562.6,302.0 L564.2,304.1 L565.8,306.0 L567.4,307.9 L569.0,309.7 L570.6,311.5 L572.2,313.4 L573.8,315.3 L575.4,317.2 L577.0,319.0 L578.6,320.7 L580.2,322.3 L581.8,323.9 L583.4,325.4 L585.0,326.9 L586.6,328.2 L588.2,329.5 L589.8,330.7 L591.4,331.7 L593.0,332.6 L594.6,333.4 L596.2,333.9 L597.9,334.2 L599.6,334.2 L601.2,334.1 L602.6,333.9 L603.7,333.7 L604.5,333.5 L605.2,333.1 L606.0,332.6 L606.9,332.0 L607.7,331.2 L608.6,330.3 L609.5,329.3 L610.3,328.2 L611.2,327.0 L612.0,325.7 L613.0,324.3 L614.1,322.8 L615.3,321.2 L616.6,319.4 L617.9,317.1 L619.3,314.3 L620.8,311.1 L622.3,307.6 L623.8,304.2 L625.3,300.7 L626.8,297.1 L628.2,293.5 L629.7,290.1 L631.1,287.0 L632.5,284.1 L634.0,281.3 L635.5,278.4 L637.2,275.4 L639.0,272.2 L640.8,269.3 L642.6,266.6 L644.4,264.3 L646.1,262.2 L647.8,260.4 L649.6,258.9 L651.4,257.7 L653.2,256.8 L654.9,256.2 L656.7,256.0 L658.5,256.3 L660.4,257.0 L662.1,257.9 L663.7,258.9 L665.1,260.0 L666.3,261.2 L667.3,262.3 L668.0,263.1" fill="none" stroke="#1a6fc7" stroke-width="2.3" stroke-linejoin="round" stroke-linecap="round" />
<path d="M416.2,284.8 L417.0,285.1 L418.1,285.6 L419.4,286.1 L420.7,286.7 L421.9,287.4 L423.2,288.2 L424.5,289.0 L425.8,289.9 L427.1,290.8 L428.4,291.7 L429.6,292.7 L430.9,293.7 L432.2,294.8 L433.5,295.9 L434.8,297.0 L436.0,298.2 L437.1,299.4 L438.0,300.8 L439.0,302.1 L439.9,303.3 L440.8,304.5 L441.7,305.6 L442.7,306.7 L443.7,307.8 L444.9,308.8 L446.1,309.8 L447.4,310.8 L448.8,311.7 L450.3,312.5 L451.9,313.3 L453.6,314.1 L455.2,314.9 L456.8,315.8 L458.5,316.6 L460.1,317.5 L461.6,318.1 L463.0,318.5 L464.2,318.8 L465.5,319.0 L466.8,319.1 L468.3,319.1 L469.8,319.0 L471.5,318.9 L473.1,318.7 L474.8,318.5 L476.5,318.2 L478.3,317.9 L480.0,317.4 L481.6,316.7 L483.2,316.0 L484.8,315.1 L486.4,314.2 L488.0,313.3 L489.7,312.4 L491.3,311.4 L492.8,310.4 L494.2,309.4 L495.4,308.3 L496.7,307.2 L497.9,305.9 L499.2,304.4 L500.4,302.8 L501.7,301.1 L503.0,299.5 L504.3,298.0 L505.6,296.4 L506.9,295.0 L508.2,293.7 L509.5,292.6 L510.8,291.6 L512.0,290.8 L513.3,289.9 L514.5,289.0 L515.8,288.2 L517.0,287.4 L518.4,286.7 L519.9,285.9 L521.5,285.2 L523.2,284.6 L524.8,284.1 L526.4,283.9 L528.0,283.9 L529.6,284.0 L531.2,284.1 L532.9,284.2 L534.6,284.4 L536.2,284.6 L537.6,284.8 L538.8,285.0 L539.8,285.2 L540.6,285.3 L541.4,285.0 L542.0,284.1 L542.5,282.7 L542.9,281.4 L543.3,280.9 L543.8,281.5 L544.3,282.7 L544.8,284.2 L545.3,285.4 L545.9,286.3 L546.5,287.0 L547.1,287.7 L547.8,288.3 L548.4,288.8 L548.8,289.2 L549.5,289.7 L550.5,290.5 L552.0,291.8 L553.9,293.3 L555.9,295.0 L557.8,296.9 L559.5,298.9 L561.1,301.1 L562.6,303.4 L564.2,305.5 L565.8,307.4 L567.4,309.3 L569.0,311.1 L570.6,312.9 L572.2,314.8 L573.8,316.7 L575.4,318.6 L577.0,320.4 L578.6,322.1 L580.2,323.7 L581.8,325.3 L583.4,326.8 L585.0,328.3 L586.6,329.6 L588.2,330.9 L589.8,332.1 L591.4,333.1 L593.0,334.0 L594.6,334.8 L596.2,335.3 L597.9,335.6 L599.6,335.6 L601.2,335.5 L602.6,335.3 L603.7,335.1 L604.5,334.9 L605.2,334.5 L606.0,334.0 L606.9,333.4 L607.7,332.6 L608.6,331.7 L609.5,330.7 L610.3,329.6 L611.2,328.4 L612.0,327.1 L613.0,325.7 L614.1,324.2 L615.3,322.6 L616.6,320.8 L617.9,318.5 L619.3,315.7 L620.8,312.5 L622.3,309.0 L623.8,305.6 L625.3,302.1 L626.8,298.5 L628.2,294.9 L629.7,291.5 L631.1,288.4 L632.5,285.5 L634.0,282.7 L635.5,279.8 L637.2,276.8 L639.0,273.6 L640.8,270.7 L642.6,268.0 L644.4,265.7 L646.1,263.6 L647.8,261.8 L649.6,260.3 L651.4,259.1 L653.2,258.2 L654.9,257.6 L656.7,257.4 L658.5,257.7 L660.4,258.4 L662.1,259.3 L663.7,260.3 L665.1,261.4 L666.3,262.6 L667.3,263.7 L668.0,264.5" fill="none" stroke="#1a6fc7" stroke-width="2.3" stroke-linejoin="round" stroke-linecap="round" />
<rect x="663.5" y="300.7" width="4" height="1.6" fill="#000"/>
<text x="407.6" y="229" font-size="16" text-anchor="end">20</text>
<text x="407.2" y="307.75" font-size="16" text-anchor="end">0</text>
<text x="406.9" y="387.1" font-size="16" text-anchor="end">-20</text>
<text x="417.3" y="404.7" font-size="16">0</text>
<text x="467.1" y="404.7" font-size="16">0.01</text>
<text x="530.2" y="404.7" font-size="16">0.02</text>
<text x="592.2" y="404.7" font-size="16">0.03</text>
<text x="655.2" y="404.7" font-size="16">0.04</text>
<text x="541" y="435.4" font-size="18.5" text-anchor="middle">Time (Sec)</text>
<text x="539" y="463.3" font-size="18" text-anchor="middle">(d)</text>
<text transform="translate(364.3,300.7) rotate(-90)" font-size="18.5" text-anchor="middle">Compensated</text>
<text transform="translate(386.5,301.3) rotate(-90)" font-size="18.5" text-anchor="middle">source current (A)</text>
<text x="436.8" y="272.8" font-size="19.5" font-style="italic">i<tspan font-size="15.5" dy="3" dx="0">sa</tspan></text>
<text x="480.4" y="272.8" font-size="19.5" font-style="italic">i<tspan font-size="15.5" dy="3" dx="0">sb</tspan></text>
<text x="453.5" y="338" font-size="19.5" font-style="italic">i<tspan font-size="15.5" dy="3" dx="0">sc</tspan></text>
</svg></body></html>
